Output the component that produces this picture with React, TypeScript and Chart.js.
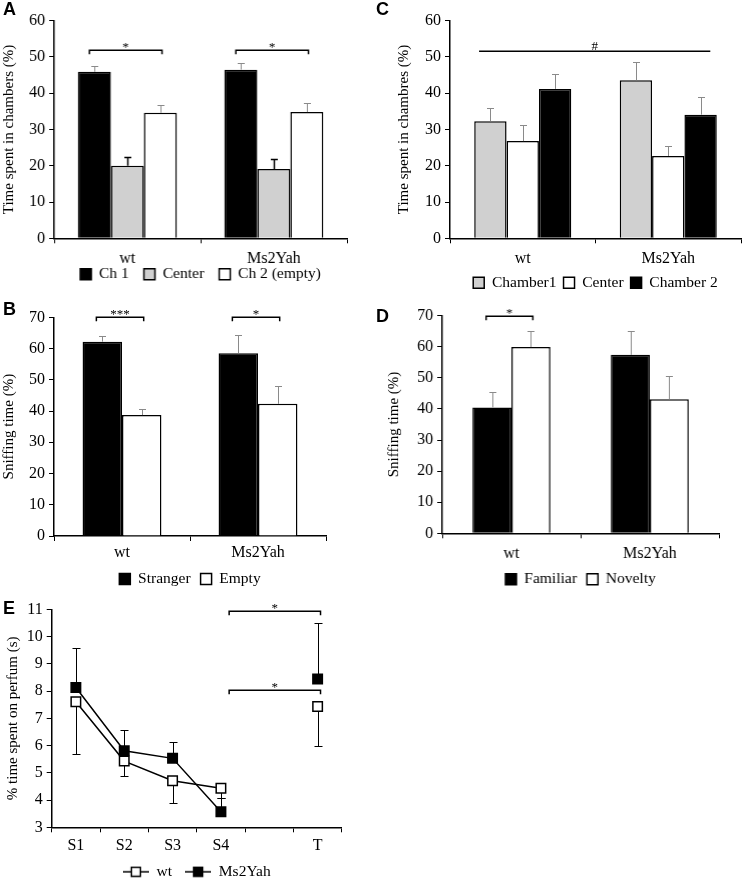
import React, { useEffect, useRef } from "react";
import { Chart, registerables } from "chart.js";

Chart.register(...registerables);

const SERIF = "'Liberation Serif', 'Times New Roman', Times, serif";
const SANS = "'Liberation Sans', Arial, Helvetica, sans-serif";
const GRAY_FILL = "#d0d0d0";
const ERR_GRAY = "#8a8a8a";
const TICK_SIZE = 16;
const TITLE_SIZE = 15;
const LEGEND_SIZE = 15.5;

// ---------------- data ----------------
const groups = ["wt", "Ms2Yah"];

// Panel A
const aLegend = ["Ch 1", "Center", "Ch 2 (empty)"];
const aCh1 = [45.9, 46.5];
const aCh1Err = [1.5, 1.8];
const aCenter = [20.0, 19.1];
const aCenterErr = [2.3, 2.8];
const aCh2 = [34.6, 34.8];
const aCh2Err = [2.2, 2.5];
const aYTicks = [0, 10, 20, 30, 40, 50, 60];

// Panel B
const bLegend = ["Stranger", "Empty"];
const bStranger = [62.2, 58.5];
const bStrangerErr = [1.7, 5.7];
const bEmpty = [38.7, 42.3];
const bEmptyErr = [1.9, 5.6];
const bYTicks = [0, 10, 20, 30, 40, 50, 60, 70];

// Panel C
const cLegend = ["Chamber1", "Center", "Chamber 2"];
const cChamber1 = [32.3, 43.6];
const cChamber1Err = [3.5, 4.9];
const cCenter = [26.8, 22.7];
const cCenterErr = [4.4, 2.7];
const cChamber2 = [41.2, 34.1];
const cChamber2Err = [4.0, 4.8];
const cYTicks = [0, 10, 20, 30, 40, 50, 60];

// Panel D
const dLegend = ["Familiar", "Novelty"];
const dFamiliar = [40.5, 57.4];
const dFamiliarErr = [5.0, 7.6];
const dNovelty = [59.9, 43.1];
const dNoveltyErr = [5.3, 7.5];
const dYTicks = [0, 10, 20, 30, 40, 50, 60, 70];

// Panel E
const eSessions = ["S1", "S2", "S3", "S4", "", "T"];
const eLegend = ["wt", "Ms2Yah"];
const eWt: (number | null)[] = [7.61, 5.43, 4.71, 4.43, null, 7.43];
const eWtErr: (number | null)[] = [1.92, 0.55, 0.81, 0.37, null, 1.43];
const eMs: (number | null)[] = [8.13, 5.81, 5.53, 3.57, null, 8.44];
const eMsErr: (number | null)[] = [1.44, 0.76, 0.59, 0.49, null, 2.07];
const eYTicks = [3, 4, 5, 6, 7, 8, 9, 10, 11];

// significance marks
const aSig = [
  { from: 0, to: 2, group: 0, level: 52, text: "*", ends: true },
  { from: 0, to: 2, group: 1, level: 52, text: "*", ends: true },
];
const bSig = [
  { from: 0, to: 1, group: 0, level: 70, text: "***", ends: true },
  { from: 0, to: 1, group: 1, level: 70, text: "*", ends: true },
];
const cSig = [{ from: 0, to: 2, group: 0, groupTo: 1, level: 51.7, text: "#", ends: false }];
const dSig = [{ from: 0, to: 1, group: 0, level: 69.8, text: "*", ends: true }];
const eSig = [
  { fromCat: 3, toCat: 5, level: 10.95, text: "*" },
  { fromCat: 3, toCat: 5, level: 8.04, text: "*" },
];

// ---------------- helpers ----------------
type Geo = {
  chartLeft: number; chartTop: number; chartRight: number; chartBottom: number;
  canvasLeft: number; axisLeft: number; labelOffset: number; legendOffset: number; legendPad: number;
};

function layoutFor(g: Geo) {
  const canvasTop = Math.round(g.chartTop - 16);
  const canvasRight = Math.min(742, g.chartRight + 6);
  const tickLen = 5;
  const lh = TICK_SIZE * 1.2;
  const tickPad = g.labelOffset - tickLen - lh / 2;
  const xAxisH = g.labelOffset + 14;
  const legendH = LEGEND_SIZE + g.legendPad + 10;
  const height = Math.ceil(g.chartBottom - canvasTop + Math.max(xAxisH + legendH, g.legendOffset + 14) + 2);
  const padBottom = height - (g.chartBottom - canvasTop) - xAxisH - legendH;
  return {
    left: g.canvasLeft,
    top: canvasTop,
    width: canvasRight - g.canvasLeft,
    height,
    padding: {
      left: g.axisLeft - g.canvasLeft,
      top: g.chartTop - canvasTop,
      right: canvasRight - g.chartRight,
      bottom: padBottom,
    },
    yAxisW: g.chartLeft - g.axisLeft,
    xAxisH,
    tickPad,
    legendPad: g.legendPad,
    legendTopOffset: g.legendOffset - g.legendPad - LEGEND_SIZE / 2,
  };
}
type Lay = ReturnType<typeof layoutFor>;

type ErrSet = { values: (number | null)[]; err: (number | null)[]; dir: 1 | -1; color: string; width: number; cap: number };

function errorBarPlugin(sets: ErrSet[], phase: "before" | "after") {
  const draw = (chart: any) => {
    const ctx = chart.ctx;
    const ys = chart.scales.y;
    sets.forEach((s, i) => {
      const meta = chart.getDatasetMeta(i);
      meta.data.forEach((el: any, j: number) => {
        const v = s.values[j];
        const e = s.err[j];
        if (v == null || e == null) return;
        const x = Math.round(el.x) + 0.5;
        const y0 = ys.getPixelForValue(v);
        const y1 = Math.round(ys.getPixelForValue(v + s.dir * e)) + 0.5;
        ctx.save();
        ctx.strokeStyle = s.color;
        ctx.lineWidth = s.width;
        ctx.beginPath();
        ctx.moveTo(x, y0);
        ctx.lineTo(x, y1);
        ctx.moveTo(x - s.cap / 2, y1);
        ctx.lineTo(x + s.cap / 2, y1);
        ctx.stroke();
        ctx.restore();
      });
    });
  };
  return phase === "before"
    ? { id: "errorBars", beforeDatasetsDraw: draw }
    : { id: "errorBars", afterDatasetsDraw: draw };
}

function drawSig(ctx: CanvasRenderingContext2D, x1: number, x2: number, y: number, text: string, ends: boolean) {
  ctx.save();
  ctx.strokeStyle = "#000";
  ctx.lineWidth = 1.5;
  ctx.beginPath();
  if (ends) {
    ctx.moveTo(x1, y + 4);
    ctx.lineTo(x1, y);
    ctx.lineTo(x2, y);
    ctx.lineTo(x2, y + 4);
  } else {
    ctx.moveTo(x1, y);
    ctx.lineTo(x2, y);
  }
  ctx.stroke();
  ctx.fillStyle = "#000";
  ctx.font = `13px ${SERIF}`;
  ctx.textAlign = "center";
  ctx.textBaseline = "alphabetic";
  ctx.fillText(text, (x1 + x2) / 2, y + (ends ? 0.5 : -1.5));
  ctx.restore();
}

function barSigPlugin(sigs: any[], dx1: number, dx2: number) {
  return {
    id: "sig",
    afterDatasetsDraw(chart: any) {
      const ys = chart.scales.y;
      sigs.forEach((s) => {
        const a = chart.getDatasetMeta(s.from).data[s.group];
        const b = chart.getDatasetMeta(s.to).data[s.groupTo ?? s.group];
        const x1 = a.x + dx1 * a.width;
        const x2 = b.x + dx2 * b.width;
        drawSig(chart.ctx, x1, x2, Math.round(ys.getPixelForValue(s.level)) + 0.25, s.text, s.ends);
      });
    },
  };
}

function placeLegendPlugin(L: Lay) {
  return {
    id: "placeLegend",
    afterLayout(chart: any) {
      const lg = chart.legend;
      if (!lg) return;
      const h = lg.height;
      lg.left = chart.chartArea.left;
      lg.right = chart.chartArea.right;
      lg.width = lg.right - lg.left;
      lg.top = chart.chartArea.bottom + L.legendTopOffset;
      lg.bottom = lg.top + h;
    },
  };
}

function axisScales(L: Lay, yTicks: number[], yTitle: string) {
  const font = { family: SERIF, size: TICK_SIZE };
  return {
    x: {
      offset: true,
      grid: { display: true, drawOnChartArea: false, drawTicks: true, tickLength: 5, color: "#000", lineWidth: 1, offset: true },
      border: { display: true, color: "#000", width: 1.5 },
      ticks: { font, color: "#000", padding: L.tickPad, autoSkip: false, maxRotation: 0 },
      afterFit: (s: any) => {
        s.height = L.xAxisH;
      },
    },
    y: {
      min: yTicks[0],
      max: yTicks[yTicks.length - 1],
      afterBuildTicks: (s: any) => {
        s.ticks = yTicks.map((v) => ({ value: v }));
      },
      afterFit: (s: any) => {
        s.width = L.yAxisW;
      },
      grid: { display: true, drawOnChartArea: false, drawTicks: true, tickLength: 5, color: "#000", lineWidth: 1 },
      border: { display: true, color: "#000", width: 1.5 },
      ticks: { font, color: "#000", padding: 4 },
      title: { display: true, text: yTitle, font: { family: SERIF, size: TITLE_SIZE }, color: "#000", padding: 0 },
    },
  };
}

type BarSeries = { label: string; data: number[]; err: number[]; fill: string; errColor: string; errWidth: number };

function barConfig(L: Lay, series: BarSeries[], yTicks: number[], yTitle: string, catPct: number, sigPlugin: any) {
  return {
    type: "bar",
    data: {
      labels: groups,
      datasets: series.map((s) => ({
        label: s.label,
        data: s.data,
        backgroundColor: s.fill,
        borderColor: "#000",
        borderWidth: 1.5,
        categoryPercentage: catPct,
        barPercentage: 1,
      })),
    },
    options: {
      responsive: false,
      animation: false,
      devicePixelRatio: 1,
      layout: { padding: L.padding },
      scales: axisScales(L, yTicks, yTitle),
      plugins: {
        tooltip: { enabled: false },
        legend: {
          display: true,
          position: "bottom",
          labels: {
            boxWidth: 11,
            boxHeight: 11,
            padding: L.legendPad,
            color: "#000",
            font: { family: SERIF, size: LEGEND_SIZE },
          },
        },
      },
    },
    plugins: [
      placeLegendPlugin(L),
      errorBarPlugin(
        series.map((s) => ({ values: s.data, err: s.err, dir: 1, color: s.errColor, width: s.errWidth, cap: 7 })),
        "after"
      ),
      sigPlugin,
    ],
  };
}

function lineIcon(filled: boolean) {
  const c = document.createElement("canvas");
  c.width = 26;
  c.height = 12;
  const g = c.getContext("2d")!;
  g.strokeStyle = "#000";
  g.lineWidth = 1.5;
  g.beginPath();
  g.moveTo(0, 6);
  g.lineTo(26, 6);
  g.stroke();
  g.fillStyle = filled ? "#000" : "#fff";
  g.fillRect(8.5, 1.5, 9, 9);
  g.strokeRect(8.5, 1.5, 9, 9);
  return c;
}

function ChartCanvas({ L, make }: { L: Lay; make: () => any }) {
  const ref = useRef<HTMLCanvasElement | null>(null);
  useEffect(() => {
    if (!ref.current) return;
    const chart = new Chart(ref.current, make());
    return () => chart.destroy();
  }, []);
  return (
    <canvas
      ref={ref}
      width={L.width}
      height={L.height}
      style={{ position: "absolute", left: L.left, top: L.top, width: L.width, height: L.height }}
    />
  );
}

// ---------------- panels ----------------
const LA = layoutFor({ chartLeft: 54, chartTop: 20.7, chartRight: 346.7, chartBottom: 238.3, canvasLeft: 0, axisLeft: 0, labelOffset: 20, legendOffset: 36, legendPad: 15 });
const LC = layoutFor({ chartLeft: 450, chartTop: 20.7, chartRight: 741, chartBottom: 238.3, canvasLeft: 371, axisLeft: 395, labelOffset: 20, legendOffset: 44.5, legendPad: 7 });
const LB = layoutFor({ chartLeft: 54, chartTop: 317.3, chartRight: 326, chartBottom: 536, canvasLeft: 0, axisLeft: 0, labelOffset: 17, legendOffset: 43, legendPad: 10 });
const LD = layoutFor({ chartLeft: 442, chartTop: 315.7, chartRight: 718.7, chartBottom: 533.3, canvasLeft: 371, axisLeft: 385, labelOffset: 20, legendOffset: 46, legendPad: 10 });
const LE = layoutFor({ chartLeft: 51.7, chartTop: 609.3, chartRight: 344, chartBottom: 827.3, canvasLeft: 0, axisLeft: 4, labelOffset: 18, legendOffset: 44.5, legendPad: 13 });

const makeA = () =>
  barConfig(
    LA,
    [
      { label: aLegend[0], data: aCh1, err: aCh1Err, fill: "#000", errColor: ERR_GRAY, errWidth: 1 },
      { label: aLegend[1], data: aCenter, err: aCenterErr, fill: GRAY_FILL, errColor: "#000", errWidth: 1.5 },
      { label: aLegend[2], data: aCh2, err: aCh2Err, fill: "#fff", errColor: ERR_GRAY, errWidth: 1 },
    ],
    aYTicks,
    "Time spent in chambers (%)",
    0.676,
    barSigPlugin(aSig, -0.15, 0.05)
  );

const makeB = () =>
  barConfig(
    LB,
    [
      { label: bLegend[0], data: bStranger, err: bStrangerErr, fill: "#000", errColor: ERR_GRAY, errWidth: 1 },
      { label: bLegend[1], data: bEmpty, err: bEmptyErr, fill: "#fff", errColor: ERR_GRAY, errWidth: 1 },
    ],
    bYTicks,
    "Sniffing time (%)",
    0.58,
    barSigPlugin(bSig, -0.15, 0.05)
  );

const makeC = () =>
  barConfig(
    LC,
    [
      { label: cLegend[0], data: cChamber1, err: cChamber1Err, fill: GRAY_FILL, errColor: ERR_GRAY, errWidth: 1 },
      { label: cLegend[1], data: cCenter, err: cCenterErr, fill: "#fff", errColor: ERR_GRAY, errWidth: 1 },
      { label: cLegend[2], data: cChamber2, err: cChamber2Err, fill: "#000", errColor: ERR_GRAY, errWidth: 1 },
    ],
    cYTicks,
    "Time spent in chambres (%)",
    0.667,
    barSigPlugin(cSig, -0.35, 0.3)
  );

const makeD = () =>
  barConfig(
    LD,
    [
      { label: dLegend[0], data: dFamiliar, err: dFamiliarErr, fill: "#000", errColor: ERR_GRAY, errWidth: 1 },
      { label: dLegend[1], data: dNovelty, err: dNoveltyErr, fill: "#fff", errColor: ERR_GRAY, errWidth: 1 },
    ],
    dYTicks,
    "Sniffing time (%)",
    0.563,
    barSigPlugin(dSig, -0.15, 0.05)
  );

const makeE = () => {
  const icons = [lineIcon(false), lineIcon(true)];
  const sigPlugin = {
    id: "sig",
    afterDatasetsDraw(chart: any) {
      const xs = chart.scales.x;
      const ys = chart.scales.y;
      const cw = xs.getPixelForValue(1) - xs.getPixelForValue(0);
      eSig.forEach((s) => {
        const x1 = xs.getPixelForValue(s.fromCat) + 0.17 * cw;
        const x2 = xs.getPixelForValue(s.toCat) + 0.06 * cw;
        drawSig(chart.ctx, x1, x2, Math.round(ys.getPixelForValue(s.level)) + 0.25, s.text, true);
      });
    },
  };
  return {
    type: "line",
    data: {
      labels: eSessions,
      datasets: [
        {
          label: eLegend[0],
          data: eWt,
          borderColor: "#000",
          borderWidth: 1.5,
          pointStyle: "rect",
          pointRadius: 6.7,
          pointBorderWidth: 1.5,
          pointBackgroundColor: "#fff",
          pointBorderColor: "#000",
          backgroundColor: "#fff",
          spanGaps: false,
          tension: 0,
        },
        {
          label: eLegend[1],
          data: eMs,
          borderColor: "#000",
          borderWidth: 1.5,
          pointStyle: "rect",
          pointRadius: 6.7,
          pointBorderWidth: 1.5,
          pointBackgroundColor: "#000",
          pointBorderColor: "#000",
          backgroundColor: "#000",
          spanGaps: false,
          tension: 0,
        },
      ],
    },
    options: {
      responsive: false,
      animation: false,
      devicePixelRatio: 1,
      layout: { padding: LE.padding },
      scales: axisScales(LE, eYTicks, "% time spent on perfum (s)"),
      plugins: {
        tooltip: { enabled: false },
        legend: {
          display: true,
          position: "bottom",
          labels: {
            usePointStyle: true,
            pointStyleWidth: 26,
            boxHeight: 12,
            padding: LE.legendPad,
            color: "#000",
            font: { family: SERIF, size: LEGEND_SIZE },
            generateLabels: (chart: any) =>
              (Chart.defaults.plugins.legend.labels as any)
                .generateLabels(chart)
                .map((it: any, i: number) => ({ ...it, pointStyle: icons[i], rotation: 0 })),
          },
        },
      },
    },
    plugins: [
      placeLegendPlugin(LE),
      errorBarPlugin(
        [
          { values: eWt, err: eWtErr, dir: -1, color: "#000", width: 1, cap: 8 },
          { values: eMs, err: eMsErr, dir: 1, color: "#000", width: 1, cap: 8 },
        ],
        "before"
      ),
      sigPlugin,
    ],
  };
};

const letterStyle = (left: number, top: number): React.CSSProperties => ({
  position: "absolute",
  left,
  top,
  fontFamily: SANS,
  fontWeight: "bold",
  fontSize: 18,
  lineHeight: "18px",
  color: "#000",
});

export default function App() {
  return (
    <div style={{ position: "absolute", left: 0, top: 0, width: 742, height: 878, background: "#fff", overflow: "hidden" }}>
      <ChartCanvas L={LA} make={makeA} />
      <ChartCanvas L={LC} make={makeC} />
      <ChartCanvas L={LB} make={makeB} />
      <ChartCanvas L={LD} make={makeD} />
      <ChartCanvas L={LE} make={makeE} />
      <div style={letterStyle(3, 0)}>A</div>
      <div style={letterStyle(3, 300)}>B</div>
      <div style={letterStyle(376, 0)}>C</div>
      <div style={letterStyle(376, 307)}>D</div>
      <div style={letterStyle(3, 599)}>E</div>
    </div>
  );
}
